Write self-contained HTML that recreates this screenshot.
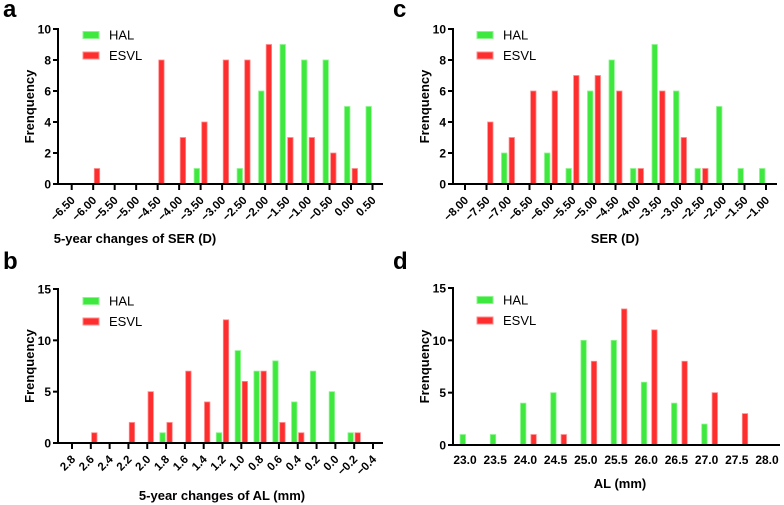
<!DOCTYPE html>
<html><head><meta charset="utf-8">
<style>
body{margin:0;background:#fff;}
svg{display:block;font-family:"Liberation Sans",Arial,sans-serif;}
</style></head>
<body>
<svg id="fig" width="784" height="505" viewBox="0 0 784 505" xmlns="http://www.w3.org/2000/svg"></svg>
<script>
// Panel a: 5-year changes of SER
const aTicks = ["-6.50","-6.00","-5.50","-5.00","-4.50","-4.00","-3.50","-3.00","-2.50","-2.00","-1.50","-1.00","-0.50","0.00","0.50"];
const aHAL  = [0,0,0,0,0,0,1,0,1,6,9,8,8,5,5];
const aESVL = [0,1,0,0,8,3,4,8,8,9,3,3,2,1,0];
const aYTicks = [0,2,4,6,8,10];
// Panel c: SER
const cTicks = ["-8.00","-7.50","-7.00","-6.50","-6.00","-5.50","-5.00","-4.50","-4.00","-3.50","-3.00","-2.50","-2.00","-1.50","-1.00"];
const cHAL  = [0,0,2,0,2,1,6,8,1,9,6,1,5,1,1];
const cESVL = [0,4,3,6,6,7,7,6,1,6,3,1,0,0,0];
const cYTicks = [0,2,4,6,8,10];
// Panel b: 5-year changes of AL
const bTicks = ["2.8","2.6","2.4","2.2","2.0","1.8","1.6","1.4","1.2","1.0","0.8","0.6","0.4","0.2","0.0","-0.2","-0.4"];
const bHAL  = [0,0,0,0,0,1,0,0,1,9,7,8,4,7,5,1,0];
const bESVL = [0,1,0,2,5,2,7,4,12,6,7,2,1,0,0,1,0];
const bYTicks = [0,5,10,15];
// Panel d: AL
const dTicks = ["23.0","23.5","24.0","24.5","25.0","25.5","26.0","26.5","27.0","27.5","28.0"];
const dHAL  = [1,1,4,5,10,10,6,4,2,0,0];
const dESVL = [0,0,1,1,8,13,11,8,5,3,0];
const dYTicks = [0,5,10,15];

const NS="http://www.w3.org/2000/svg";
const svg=document.getElementById('fig');
function mk(tag,attrs,parent,text){const e=document.createElementNS(NS,tag);for(const k in attrs)e.setAttribute(k,attrs[k]);if(text!==undefined)e.textContent=text;(parent||svg).appendChild(e);return e;}

function panel(cfg){
  const g=mk('g',{});
  
  
  const yMax=cfg.yTicks[cfg.yTicks.length-1];
  const ys=v=>cfg.y0-(v/yMax)*(cfg.y0-cfg.yTop);
  const n=cfg.ticks.length;
  const xs=i=>cfg.xFirst+i*(cfg.xLast-cfg.xFirst)/(n-1);
  const letter=mk('text',{x:cfg.lx,y:cfg.ly,'font-size':24,'font-weight':'bold'},g,cfg.letter);
  
  
  for(let i=0;i<n;i++){
    [[cfg.hal,'#3fe83f','#8af58a',cfg.gOff,'hal'],[cfg.esvl,'#ff2e2e','#ff8a8a',cfg.rOff,'esvl']].forEach(s=>{
      const v=s[0][i]; if(!v) return;
      const r=mk('rect',{x:xs(i)+s[3]-2.7,y:ys(v),width:5.4,height:cfg.y0-ys(v),fill:s[1],stroke:s[2],'stroke-width':0.8},g);
      
      
    });
  }
  const ya=mk('line',{x1:cfg.xAxis,y1:cfg.yTop-1,x2:cfg.xAxis,y2:cfg.y0+1,stroke:'#000','stroke-width':2},g);
  
  
  const xa=mk('line',{x1:cfg.xAxis-1,y1:cfg.y0,x2:cfg.xEnd,y2:cfg.y0,stroke:'#000','stroke-width':2},g);
  
  
  cfg.yTicks.forEach(t=>{
    mk('line',{x1:cfg.xAxis-5,y1:ys(t),x2:cfg.xAxis,y2:ys(t),stroke:'#000','stroke-width':2},g);
    const tl=mk('text',{x:cfg.xAxis-7,y:ys(t)+4.5,'font-size':12,'font-weight':'bold','text-anchor':'end'},g,String(t));
    
    
  });
  for(let i=0;i<n;i++){
    const x=xs(i);
    const lab=cfg.ticks[i].replace('-','\u2212');
    if(cfg.rot){
      mk('line',{x1:x,y1:cfg.y0,x2:x,y2:cfg.y0+6,stroke:'#000','stroke-width':2},g);
      const tl=mk('text',{x:x+4,y:cfg.y0+17,'font-size':11.5,'font-weight':'bold','text-anchor':'end',transform:`rotate(-45 ${x+4} ${cfg.y0+17})`},g,lab);
      
      
    } else {
      const tl=mk('text',{x:x,y:cfg.y0+19,'font-size':12,'font-weight':'bold','text-anchor':'middle'},g,lab);
      
      
    }
  }
  const yt=mk('text',{x:0,y:0,'font-size':13,'font-weight':'bold','text-anchor':'middle',transform:`translate(${cfg.xAxis-24} ${(cfg.y0+cfg.yTop)/2}) rotate(-90)`},g,'Frenquency');
  
  
  const xt=mk('text',{x:cfg.xtX,y:cfg.xtY,'font-size':13,'font-weight':'bold','text-anchor':'middle'},g,cfg.xTitle);
  
  
  [['HAL','#3fe83f','#8af58a',0],['ESVL','#ff2e2e','#ff8a8a',1]].forEach(l=>{
    const yy=cfg.legY+l[3]*20.5;
    const r=mk('rect',{x:cfg.legX,y:yy-3.5,width:16,height:7,fill:l[1],stroke:l[2],'stroke-width':1},g);
    
    
    const t=mk('text',{x:cfg.legX+26,y:yy+4.5,'font-size':13},g,l[0]);
    
    
  });
}

panel({letter:'a',lx:3,ly:17,ticks:aTicks,hal:aHAL,esvl:aESVL,yTicks:aYTicks,xAxis:58,yTop:29,y0:184,xFirst:71.7,xLast:372.5,xEnd:383,gOff:-3.8,rOff:3.8,rot:true,xTitle:'5-year changes of SER (D)',xtX:135,xtY:243,legX:83,legY:35});
panel({letter:'c',lx:393,ly:17,ticks:cTicks,hal:cHAL,esvl:cESVL,yTicks:cYTicks,xAxis:453,yTop:29,y0:184,xFirst:465,xLast:766,xEnd:777,gOff:-3.8,rOff:3.8,rot:true,xTitle:'SER (D)',xtX:615,xtY:243,legX:477,legY:35});
panel({letter:'b',lx:3,ly:269,ticks:bTicks,hal:bHAL,esvl:bESVL,yTicks:bYTicks,xAxis:58,yTop:289,y0:443,xFirst:72,xLast:373,xEnd:383,gOff:-3.5,rOff:3.5,rot:true,xTitle:'5-year changes of AL (mm)',xtX:222,xtY:500,legX:83,legY:301});
panel({letter:'d',lx:393,ly:269,ticks:dTicks,hal:dHAL,esvl:dESVL,yTicks:dYTicks,xAxis:453,yTop:288,y0:445,xFirst:465,xLast:767,xEnd:780,gOff:-2.2,rOff:8.2,rot:false,xTitle:'AL (mm)',xtX:620,xtY:488,legX:477,legY:300});
</script>
</body></html>
